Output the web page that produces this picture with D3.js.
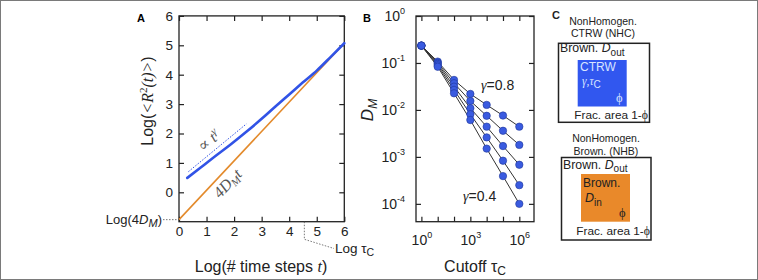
<!DOCTYPE html>
<html><head><meta charset="utf-8">
<script src="https://cdn.jsdelivr.net/npm/d3@7"></script>
<style>
body{margin:0;background:#fff;}
svg{display:block;font-family:"Liberation Sans",Arial,sans-serif;}
.serif{font-family:"Liberation Serif","DejaVu Serif",serif;}
</style></head>
<body><svg id="c" width="758" height="280"></svg>
<script>
// ---------- data ----------
const aTicks = [0, 1, 2, 3, 4, 5, 6];
const blueT = [0.3, 0.8, 1.3, 1.85, 2.5, 3.0, 3.5, 4.0, 4.5, 5.0, 5.5, 6.0];
const blueR = [0.49, 0.85, 1.22, 1.61, 2.1, 2.5, 2.92, 3.33, 3.74, 4.14, 4.6, 5.07];
const orangeT = [0, 6];
const orangeR = [-0.93, 5.07];
const powT = [0.34, 2.45];
const powR = [0.7, 2.33];
const logTauC = 4.55;

const cutoffs = [1, 10, 100, 1e3, 1e4, 1e5, 1e6];
const bTicksY = [1, 1e-1, 1e-2, 1e-3, 1e-4];
const bTickLabelsX = [1, 1e3, 1e6];
const gammas = ["0.8", "0.7", "0.6", "0.5", "0.4"];
const g08 = [0.234, 0.107, 0.0435, 0.0219, 0.0128, 0.0076, 0.0044];
const g07 = [0.234, 0.101, 0.037, 0.0155, 0.0075, 0.0036, 0.0018];
const g06 = [0.234, 0.0955, 0.0313, 0.0109, 0.0044, 0.0017, 0.00068];
const g05 = [0.234, 0.0891, 0.0267, 0.0081, 0.0026, 0.00083, 0.00025];
const g04 = [0.234, 0.0832, 0.0226, 0.0061, 0.0015, 0.00039, 0.0001];
const seriesB = [g08, g07, g06, g05, g04];

const BLUE = "#3153e6", ORANGE = "#e38a2b";
const svg = d3.select("#c");

// outer frame
svg.append("rect").attr("x",0.5).attr("y",0.5).attr("width",757).attr("height",279)
  .attr("fill","none").attr("stroke","#7a7a7a");

// ---------- Panel A ----------
const xA = d3.scaleLinear().domain([0,6]).range([179,344.3]);
const yA = d3.scaleLinear().domain([-1,6]).range([221.7,15.9]);
const gA = svg.append("g");
gA.append("rect").attr("x",xA(0)).attr("y",yA(6)).attr("width",xA(6)-xA(0)).attr("height",yA(-1)-yA(6))
  .attr("fill","none").attr("stroke","#222").attr("stroke-width",1.3);
function styleAxis(g){ g.select(".domain").remove(); g.selectAll("line").attr("stroke","#222").attr("stroke-width",1.2);
  g.selectAll("text").attr("fill","#222"); }
gA.append("g").attr("transform",`translate(0,${yA(-1)})`)
  .call(d3.axisBottom(xA).tickValues(aTicks).tickSize(-5).tickPadding(5).tickFormat(d3.format("d")))
  .call(styleAxis).selectAll("text").attr("font-size",13.5);
gA.append("g").attr("transform",`translate(0,${yA(6)})`)
  .call(d3.axisTop(xA).tickValues(aTicks).tickSize(-5).tickFormat(""))
  .call(styleAxis);
gA.append("g").attr("transform",`translate(${xA(0)},0)`)
  .call(d3.axisLeft(yA).tickValues(aTicks).tickSize(-5).tickPadding(6).tickFormat(d3.format("d")))
  .call(styleAxis).selectAll("text").attr("font-size",13.5);
gA.append("g").attr("transform",`translate(${xA(6)},0)`)
  .call(d3.axisRight(yA).tickValues(aTicks).tickSize(-5).tickFormat(""))
  .call(styleAxis);

const lineA = d3.line().x(d=>xA(d[0])).y(d=>yA(d[1])).curve(d3.curveMonotoneX);
gA.append("path").attr("d", d3.line().x(d=>xA(d[0])).y(d=>yA(d[1]))(orangeT.map((t,i)=>[t,orangeR[i]])))
  .attr("fill","none").attr("stroke",ORANGE).attr("stroke-width",1.6);
gA.append("path").attr("d", lineA(blueT.map((t,i)=>[t,blueR[i]])))
  .attr("fill","none").attr("stroke",BLUE).attr("stroke-width",2.6).attr("stroke-linecap","round");
gA.append("path").attr("d", d3.line().x(d=>xA(d[0])).y(d=>yA(d[1]))(powT.map((t,i)=>[t,powR[i]])))
  .attr("fill","none").attr("stroke",BLUE).attr("stroke-width",1).attr("stroke-dasharray","1.5,1.5");

// rotated annotations
const angPow = Math.atan2(yA(powR[1])-yA(powR[0]), xA(powT[1])-xA(powT[0]))*180/Math.PI;
const tp = gA.append("text").attr("class","serif").attr("font-size",16).attr("fill","#555").attr("font-style","italic")
  .attr("transform",`translate(${xA(1.2)},${yA(1.62)}) rotate(${angPow})`).attr("text-anchor","middle");
tp.append("tspan").attr("font-style","normal").text("∝ ");
tp.append("tspan").text("t");
tp.append("tspan").attr("dy",-6).attr("font-size",11).text("γ");
const angOr = Math.atan2(yA(orangeR[1])-yA(orangeR[0]), xA(orangeT[1])-xA(orangeT[0]))*180/Math.PI;
const to = gA.append("text").attr("class","serif").attr("font-size",16).attr("fill","#555").attr("font-style","italic")
  .attr("transform",`translate(${xA(1.9)},${yA(0.18)}) rotate(${angOr})`).attr("text-anchor","middle");
to.append("tspan").text("4D");
to.append("tspan").attr("dy",3).attr("font-size",11).text("M");
to.append("tspan").attr("dy",-3).text("t");

// Log(4D_M)
gA.append("line").attr("x1",163).attr("x2",xA(0)).attr("y1",yA(orangeR[0])).attr("y2",yA(orangeR[0]))
  .attr("stroke","#555").attr("stroke-width",0.8).attr("stroke-dasharray","1.5,1.5");
const l4 = gA.append("text").attr("x",162).attr("y",yA(orangeR[0])+4.5).attr("text-anchor","end").attr("font-size",13).attr("fill","#222");
l4.append("tspan").text("Log(4");
l4.append("tspan").attr("font-style","italic").text("D");
l4.append("tspan").attr("font-style","italic").attr("dy",3).attr("font-size",11).text("M");
l4.append("tspan").attr("dy",-3).text(")");

// Log tau_C
gA.append("path").attr("d",`M${xA(logTauC)},${yA(-1)}V239.3L334,248.5`)
  .attr("fill","none").attr("stroke","#555").attr("stroke-width",0.8).attr("stroke-dasharray","1.5,1.5");
const lt = gA.append("text").attr("x",335).attr("y",253).attr("font-size",13.5).attr("fill","#222");
lt.append("tspan").text("Log τ");
lt.append("tspan").attr("dy",3).attr("font-size",10.5).text("C");

// axis labels
const xl = gA.append("text").attr("x",261).attr("y",272).attr("text-anchor","middle").attr("font-size",16).attr("fill","#222");
xl.append("tspan").text("Log(# time steps ");
xl.append("tspan").attr("class","serif").attr("font-style","italic").text("t");
xl.append("tspan").text(")");
const yl = gA.append("text").attr("transform","translate(153,101) rotate(-90)").attr("text-anchor","middle").attr("font-size",16).attr("fill","#222");
yl.append("tspan").text("Log(");
yl.append("tspan").attr("class","serif").attr("font-style","italic").text("<R");
yl.append("tspan").attr("class","serif").attr("dy",-6).attr("font-size",11).text("2");
yl.append("tspan").attr("class","serif").attr("font-style","italic").attr("dy",6).text("(t)>");
yl.append("tspan").text(")");
gA.append("text").attr("x",137).attr("y",22).attr("font-size",11).attr("font-weight","bold").text("A");

// ---------- Panel B ----------
const xB = d3.scaleLog().domain([Math.pow(10,-0.33), Math.pow(10,6.9)]).range([416,534]);
const yB = d3.scaleLog().domain([Math.pow(10,-4.38), 1]).range([221.7,16]);
const gB = svg.append("g");
gB.append("rect").attr("x",416).attr("y",yB(1)).attr("width",xB.range()[1]-xB.range()[0]).attr("height",yB.range()[0]-yB.range()[1])
  .attr("fill","none").attr("stroke","#222").attr("stroke-width",1.3);
function supLabel(sel){
  sel.each(function(d){
    const t = d3.select(this); const e = Math.round(Math.log10(d));
    t.text(null);
    t.append("tspan").text("10");
    t.append("tspan").attr("dy",-7).attr("font-size",9).text(e);
  });
}
gB.append("g").attr("transform",`translate(0,${yB.range()[0]})`)
  .call(d3.axisBottom(xB).tickValues(cutoffs).tickSize(-5).tickFormat(""))
  .call(styleAxis);
gB.append("g").attr("transform",`translate(0,${yB.range()[1]})`)
  .call(d3.axisTop(xB).tickValues(cutoffs).tickSize(-5).tickFormat(""))
  .call(styleAxis);
gB.append("g").attr("transform",`translate(0,${yB.range()[0]})`)
  .call(d3.axisBottom(xB).tickValues(bTickLabelsX).tickSize(0).tickPadding(13).tickFormat(d=>d))
  .call(styleAxis).selectAll("text").attr("font-size",14).call(supLabel);
gB.append("g").attr("transform",`translate(416,0)`)
  .call(d3.axisLeft(yB).tickValues(bTicksY).tickSize(-5).tickPadding(11).tickFormat(d=>d))
  .call(styleAxis).selectAll("text").attr("font-size",14).call(supLabel);
gB.append("g").attr("transform",`translate(${xB.range()[1]},0)`)
  .call(d3.axisRight(yB).tickValues(bTicksY).tickSize(-5).tickFormat(""))
  .call(styleAxis);

const lineB = d3.line().x((d,i)=>xB(cutoffs[i])).y(d=>yB(d));
seriesB.forEach(s=>{
  gB.append("path").attr("d",lineB(s)).attr("fill","none").attr("stroke","#333").attr("stroke-width",1);
});
seriesB.forEach(s=>{
  gB.selectAll(null).data(s).enter().append("circle")
    .attr("cx",(d,i)=>xB(cutoffs[i])).attr("cy",d=>yB(d)).attr("r",3.7)
    .attr("fill","#3a5be0").attr("stroke","#1f3599").attr("stroke-width",0.6);
});
function gammaLabel(x,y,val){
  const t = gB.append("text").attr("x",x).attr("y",y).attr("font-size",14).attr("fill","#222");
  t.append("tspan").attr("class","serif").attr("font-style","italic").text("γ");
  t.append("tspan").text("="+val);
}
gammaLabel(481, 90, gammas[0]);
gammaLabel(463, 201, gammas[4]);
const cl = gB.append("text").attr("x",475).attr("y",272).attr("text-anchor","middle").attr("font-size",16).attr("fill","#222");
cl.append("tspan").text("Cutoff τ");
cl.append("tspan").attr("dy",3).attr("font-size",12).text("C");
const dl = gB.append("text").attr("transform","translate(373,110) rotate(-90)").attr("text-anchor","middle").attr("font-size",17).attr("fill","#222").attr("font-style","italic");
dl.append("tspan").text("D");
dl.append("tspan").attr("dy",4).attr("font-size",12).text("M");
gB.append("text").attr("x",363).attr("y",22).attr("font-size",11).attr("font-weight","bold").text("B");

// ---------- Panel C ----------
const gC = svg.append("g").attr("fill","#222");
gC.append("text").attr("x",552).attr("y",19).attr("font-size",11).attr("font-weight","bold").text("C");
gC.append("text").attr("x",603).attr("y",25).attr("text-anchor","middle").attr("font-size",10.5).text("NonHomogen.");
gC.append("text").attr("x",603).attr("y",37).attr("text-anchor","middle").attr("font-size",10.5).text("CTRW (NHC)");
gC.append("text").attr("x",606).attr("y",142).attr("text-anchor","middle").attr("font-size",10.5).text("NonHomogen.");
gC.append("text").attr("x",606).attr("y",155).attr("text-anchor","middle").attr("font-size",10.5).text("Brown. (NHB)");

function boxC(x0,y0,x1,y1,rx0,ry0,rx1,ry1,fill){
  gC.append("rect").attr("x",x0).attr("y",y0).attr("width",x1-x0).attr("height",y1-y0)
    .attr("fill","#fff").attr("stroke","#222").attr("stroke-width",1.5);
  gC.append("rect").attr("x",rx0).attr("y",ry0).attr("width",rx1-rx0).attr("height",ry1-ry0).attr("fill",fill);
}
function dOut(x,y){
  const t = gC.append("text").attr("x",x).attr("y",y).attr("font-size",12.3);
  t.append("tspan").text("Brown. ");
  t.append("tspan").attr("font-style","italic").text("D");
  t.append("tspan").attr("dy",3.5).attr("font-size",10).text("out");
}
function frac(x,y){
  const t = gC.append("text").attr("x",x).attr("y",y).attr("text-anchor","end").attr("font-size",11.8);
  t.append("tspan").text("Frac. area 1-");
  t.append("tspan").attr("class","serif").text("ϕ");
}
boxC(558.5,43.3,649.5,122.3, 577.7,60,626.7,106.5, "#3157ef");
dOut(560,52);
frac(648,118.5);
gC.append("text").attr("x",580).attr("y",71).attr("font-size",12).attr("fill","#d8e4ff").text("CTRW");
const gt = gC.append("text").attr("x",582).attr("y",85).attr("font-size",11.5).attr("fill","#d8e4ff");
gt.append("tspan").attr("class","serif").attr("font-style","italic").text("γ,τ");
gt.append("tspan").attr("dy",3).attr("font-size",10).text("C");
gC.append("text").attr("class","serif").attr("x",616).attr("y",102).attr("font-size",12.5).attr("fill","#d8e4ff").text("ϕ");

boxC(561.5,157.5,651,240, 581,174,630,221.7, "#e9892a");
dOut(563,168.5);
frac(650,235);
gC.append("text").attr("x",583).attr("y",186.5).attr("font-size",12).text("Brown.");
const di = gC.append("text").attr("x",585).attr("y",202).attr("font-size",12.5);
di.append("tspan").attr("font-style","italic").text("D");
di.append("tspan").attr("dy",3.5).attr("font-size",10).text("in");
gC.append("text").attr("class","serif").attr("x",619).attr("y",217).attr("font-size",12.5).text("ϕ");
</script></body></html>
